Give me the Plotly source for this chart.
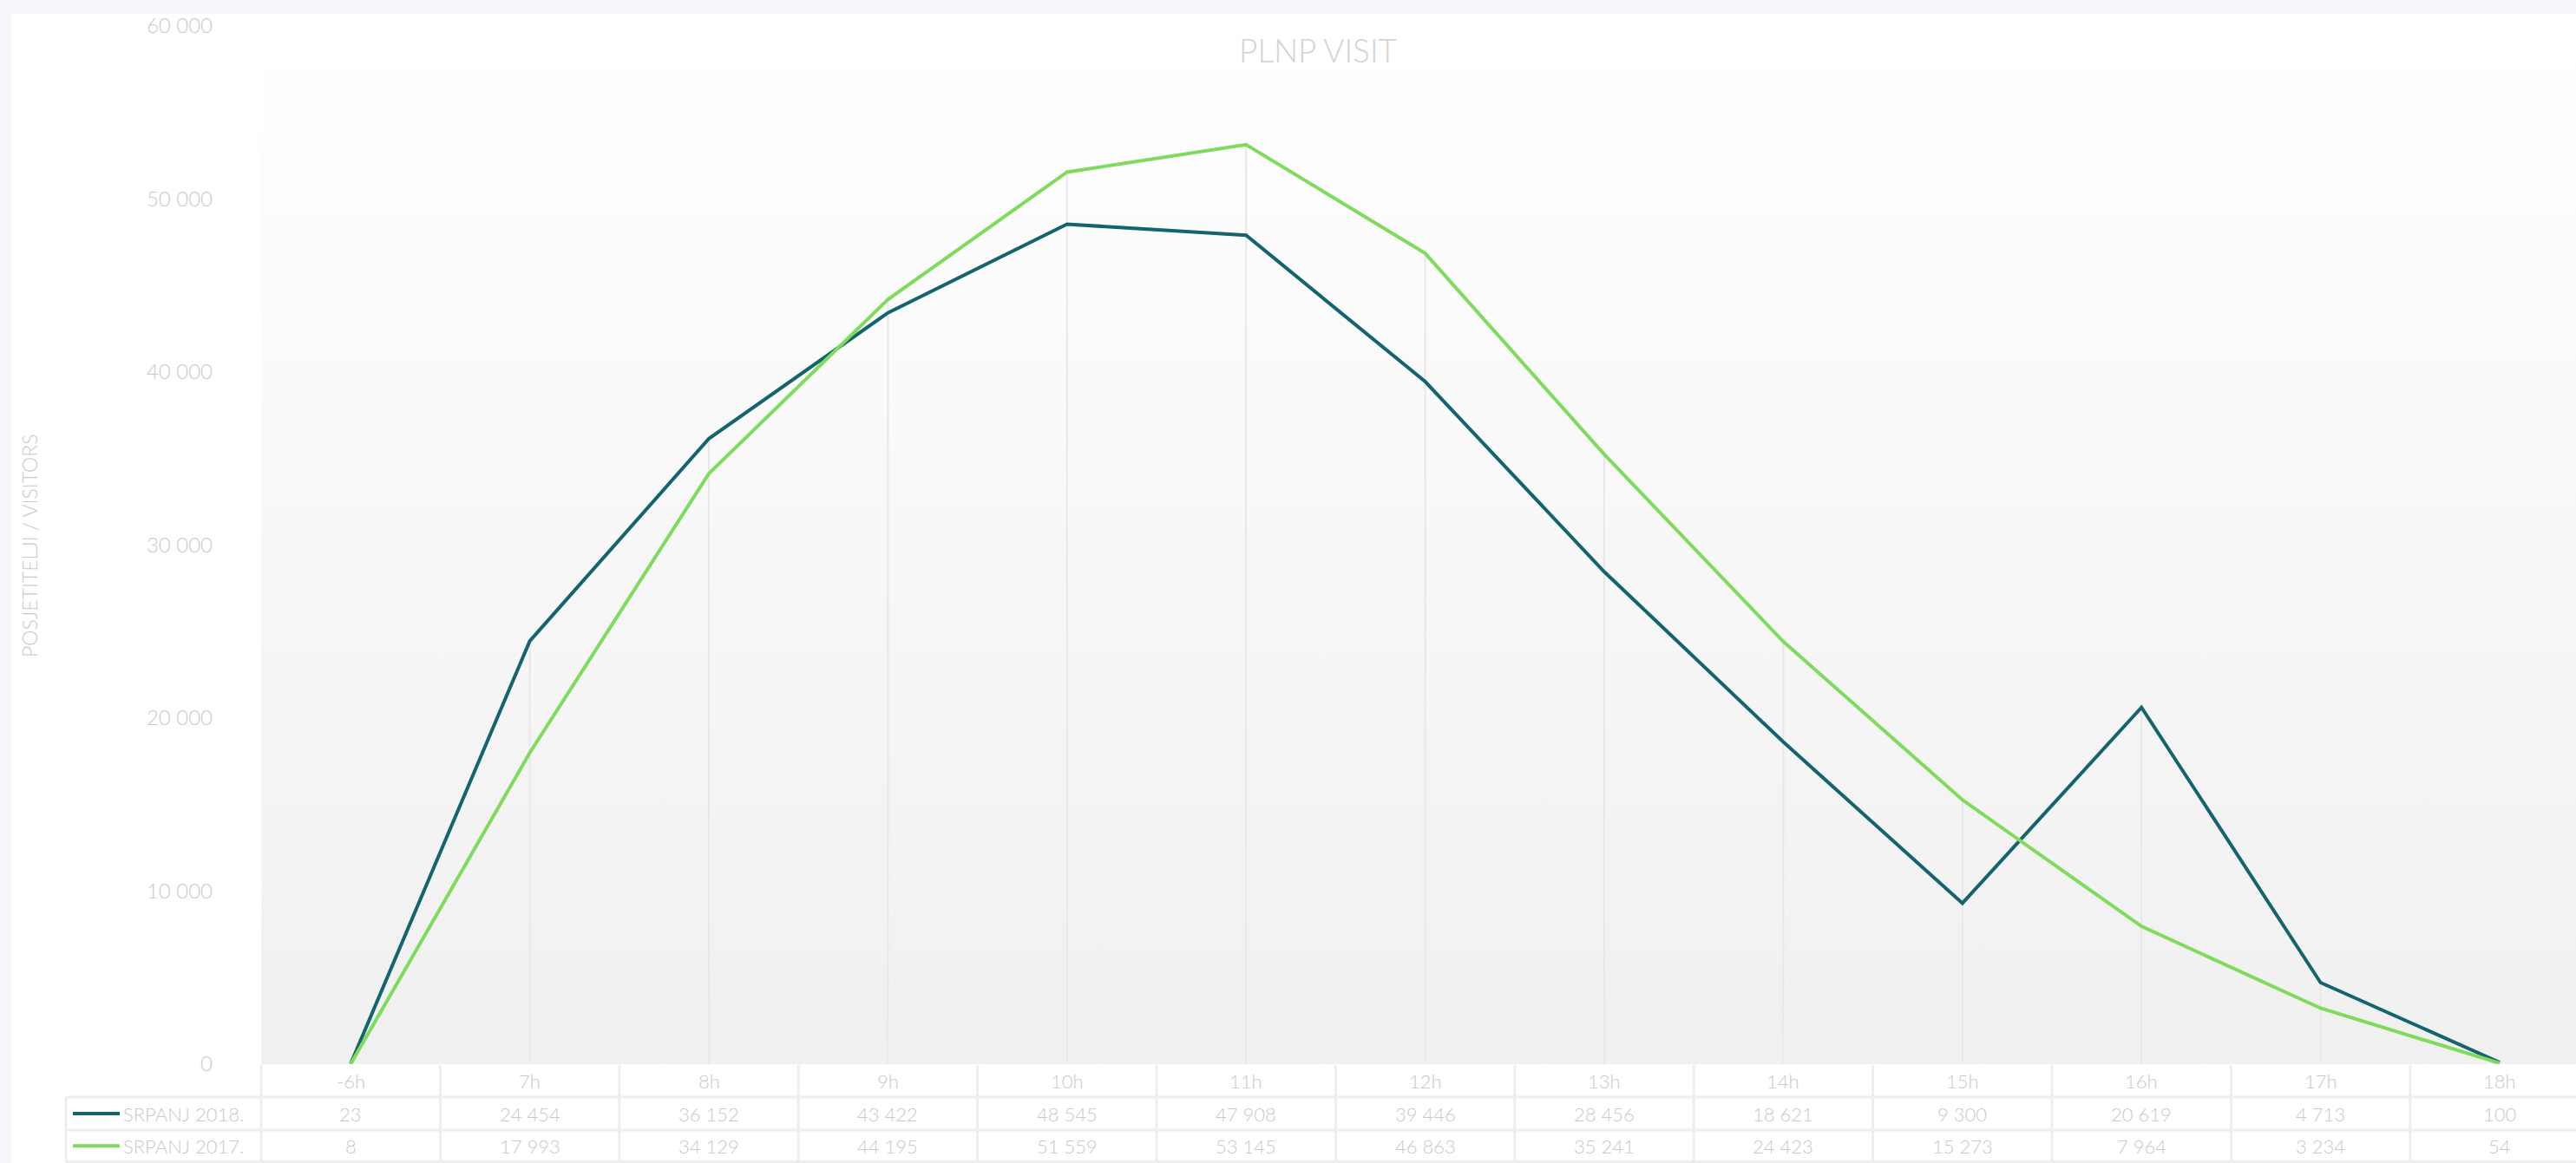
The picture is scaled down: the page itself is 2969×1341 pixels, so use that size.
import plotly.graph_objects as go

# ──────────────────────────────────────────────
# Data
# ──────────────────────────────────────────────
categories = ["-6h", "7h", "8h", "9h", "10h", "11h", "12h", "13h", "14h", "15h", "16h", "17h", "18h"]
srpanj_2018 = [23, 24454, 36152, 43422, 48545, 47908, 39446, 28456, 18621, 9300, 20619, 4713, 100]
srpanj_2017 = [8, 17993, 34129, 44195, 51559, 53145, 46863, 35241, 24423, 15273, 7964, 3234, 54]
series_names = ["SRPANJ 2018.", "SRPANJ 2017."]
y_ticks = [0, 10000, 20000, 30000, 40000, 50000, 60000]

# ──────────────────────────────────────────────
# Look
# ──────────────────────────────────────────────
W, H = 2969, 1341
M_L, M_R, M_T, M_B = 301, 0, 30, 114
COL_W = 206.4
TEAL = "#13646e"
GREEN = "#7fdb5c"
TXT = "#c9c9c9"
GRID = "#eeeeee"
PAGE_BG = "#f5f6fa"
FONT = "Lato"

plot_w = W - M_L - M_R
plot_h = H - M_T - M_B
x0 = -0.5
x1 = x0 + plot_w / COL_W
y_max = y_ticks[-1]


def fx(px):
    """pixel x -> paper x"""
    return (px - M_L) / plot_w


def fy(py):
    """pixel y -> paper y"""
    return (H - M_B - py) / plot_h


def fmt(v):
    return f"{v:,}".replace(",", " ")


xs = list(range(len(categories)))
fig = go.Figure()

# gradient plot background
fig.add_trace(go.Scatter(
    x=[x0, x1, x1, x0, x0], y=[0, 0, y_max, y_max, 0],
    mode="lines", line=dict(width=0), fill="toself",
    fillgradient=dict(type="vertical", start=0, stop=y_max,
                      colorscale=[[0, "#f0f0f0"], [1, "#ffffff"]]),
    hoverinfo="skip", showlegend=False,
))

# drop lines from the higher point of each category
drop_x, drop_y = [], []
for i, (a, b) in enumerate(zip(srpanj_2018, srpanj_2017)):
    drop_x += [i, i, None]
    drop_y += [0, max(a, b), None]
fig.add_trace(go.Scatter(x=drop_x, y=drop_y, mode="lines",
                         line=dict(color="#e8e8e8", width=2),
                         hoverinfo="skip", showlegend=False))

for name, vals, col in [(series_names[0], srpanj_2018, TEAL), (series_names[1], srpanj_2017, GREEN)]:
    fig.add_trace(go.Scatter(x=xs, y=vals, name=name, mode="lines",
                             line=dict(color=col, width=4), showlegend=False,
                             text=categories, hovertemplate="%{text}: %{y:,}<extra>" + name + "</extra>"))

# ──────────────────────────────────────────────
# Card + data table under the plot
# ──────────────────────────────────────────────
shapes = [dict(type="rect", xref="paper", yref="paper", layer="below",
               x0=fx(13), x1=fx(W + 5), y0=fy(16), y1=fy(H + 5),
               fillcolor="white", line=dict(width=0))]

row_top, row1, row2, row_bot = H - M_B + 1, 1265, 1303, 1339.5
leg_left = 76
line_style = dict(color=GRID, width=3)

for yy in [row1, row2, row_bot]:
    shapes.append(dict(type="line", xref="paper", yref="paper",
                       x0=fx(leg_left), x1=fx(W + 5), y0=fy(yy), y1=fy(yy), line=line_style))
shapes.append(dict(type="line", xref="paper", yref="paper",
                   x0=fx(leg_left), x1=fx(leg_left), y0=fy(row1), y1=fy(row_bot), line=line_style))
for i in range(len(categories) + 1):
    xb = fx(M_L + i * COL_W)
    if xb > 1.01:
        break
    shapes.append(dict(type="line", xref="paper", yref="paper",
                       x0=xb, x1=xb, y0=fy(row_top), y1=fy(row_bot), line=line_style))

cell = dict(xref="x", yref="paper", xanchor="center", yanchor="middle", showarrow=False,
            font=dict(size=22, color=TXT))
annotations = []
for i, c in enumerate(categories):
    annotations.append(dict(x=i, y=fy((row_top + row1) / 2), text=c, **cell))
    for yy, vals in [((row1 + row2) / 2, srpanj_2018), ((row2 + row_bot) / 2, srpanj_2017)]:
        annotations.append(dict(x=i, y=fy(yy), text=fmt(vals[i]), **cell))

# legend column
for yy, name, col in [((row1 + row2) / 2, series_names[0], TEAL), ((row2 + row_bot) / 2, series_names[1], GREEN)]:
    shapes.append(dict(type="line", xref="paper", yref="paper",
                       x0=fx(84), x1=fx(138), y0=fy(yy), y1=fy(yy), line=dict(color=col, width=4)))
    annotations.append(dict(x=fx(140), y=fy(yy), xref="paper", yref="paper", text=name,
                            xanchor="left", yanchor="middle", showarrow=False,
                            font=dict(size=22, color=TXT)))

# y-axis title
annotations.append(dict(x=fx(34), y=fy(629), xref="paper", yref="paper", text="POSJETITELJI / VISITORS",
                        xanchor="center", yanchor="middle", textangle=-90, showarrow=False,
                        font=dict(size=23, color=TXT)))

fig.update_layout(
    width=W, height=H,
    margin=dict(l=M_L, r=M_R, t=M_T, b=M_B, pad=0),
    paper_bgcolor=PAGE_BG,
    plot_bgcolor="rgba(0,0,0,0)",
    font=dict(family=FONT, weight=300, size=22, color=TXT),
    separators=". ",
    title=dict(text="PLNP VISIT", x=1519 / W, xanchor="center", y=1 - 59 / H, yanchor="middle",
               font=dict(family=FONT, weight=300, size=37, color="#d3d3d3")),
    xaxis=dict(range=[x0, x1], showgrid=False, zeroline=False, showticklabels=False,
               showline=False, fixedrange=True),
    yaxis=dict(range=[0, y_max], tickvals=y_ticks, tickformat=",d", showgrid=False, zeroline=False,
               showline=False, ticks="", ticklabelstandoff=55,
               tickfont=dict(family=FONT, weight=300, size=24, color=TXT), fixedrange=True),
    shapes=shapes,
    annotations=annotations,
    hovermode="closest",
)

# drop the default 8px body margin so the figure sits at the page origin
fig.write_html("out.html", config={"displayModeBar": False},
               post_script="document.body.style.margin='0';document.body.style.background='%s';" % PAGE_BG)
